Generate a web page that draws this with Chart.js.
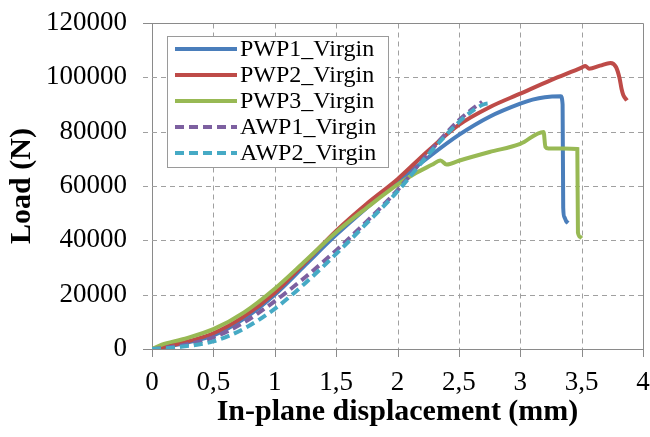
<!DOCTYPE html>
<html>
<head>
<meta charset="utf-8">
<script src="https://cdn.jsdelivr.net/npm/chart.js@4.4.1/dist/chart.umd.min.js"></script>
<style>
  html, body { margin: 0; padding: 0; background: #fff; }
  canvas { display: block; }
</style>
</head>
<body>
<canvas id="loadChart" width="650" height="437"></canvas>
<script>
/* Load vs. in-plane displacement, virgin specimens */

// displacement (mm) / load (N) per specimen
const pwp1X = [0, 0.1, 0.25, 0.5, 0.75, 1, 1.25, 1.5, 1.75, 2, 2.25, 2.5, 2.75, 3, 3.1, 3.2, 3.33, 3.345, 3.35, 3.36, 3.375, 3.39];
const pwp1Y = [0, 700, 2000, 5000, 11200, 20000, 31000, 42000, 52000, 61500, 70500, 78800, 85500, 90300, 91800, 92700, 93000, 90000, 52000, 48500, 47000, 46400];

const pwp2X = [0, 0.1, 0.25, 0.5, 0.75, 1, 1.25, 1.5, 1.75, 2, 2.25, 2.5, 2.75, 3, 3.25, 3.5, 3.53, 3.56, 3.65, 3.735, 3.78, 3.81, 3.825, 3.84, 3.87];
const pwp2Y = [0, 800, 2300, 5800, 12000, 20700, 32000, 43500, 53500, 62500, 73000, 82500, 89000, 94000, 99000, 103600, 104200, 103200, 104300, 105300, 103800, 99500, 95800, 93400, 91500];

const pwp3X = [0, 0.08, 0.25, 0.5, 0.75, 1, 1.25, 1.5, 1.75, 2, 2.15, 2.28, 2.35, 2.4, 2.5, 2.75, 3, 3.19, 3.205, 3.23, 3.35, 3.465, 3.47, 3.49, 3.5];
const pwp3Y = [0, 1600, 3600, 7300, 13500, 22200, 32500, 43000, 52000, 60500, 64800, 67800, 69400, 67900, 69300, 72500, 75500, 79900, 74400, 73800, 73800, 73600, 42800, 41200, 40700];

const awp1X = [0, 0.1, 0.25, 0.5, 0.75, 1, 1.25, 1.5, 1.75, 2, 2.25, 2.5, 2.6, 2.69];
const awp1Y = [0, 400, 1400, 4300, 9800, 17600, 26500, 36300, 47000, 58500, 72000, 84200, 88000, 91000];

const awp2X = [0, 0.1, 0.25, 0.5, 0.75, 1, 1.25, 1.5, 1.75, 2, 2.25, 2.5, 2.6, 2.7, 2.77];
const awp2Y = [0, 200, 900, 2800, 7500, 14800, 24300, 35000, 46300, 58000, 71500, 83500, 87300, 90000, 90500];

const seriesLabels = ['PWP1_Virgin', 'PWP2_Virgin', 'PWP3_Virgin', 'AWP1_Virgin', 'AWP2_Virgin'];

// axis ticks (comma decimals as in the original)
const xTicks = [0, 0.5, 1, 1.5, 2, 2.5, 3, 3.5, 4];
const xTickLabels = ['0', '0,5', '1', '1,5', '2', '2,5', '3', '3,5', '4'];
const yTicks = [0, 20000, 40000, 60000, 80000, 100000, 120000];
const yTickLabels = ['0', '20000', '40000', '60000', '80000', '100000', '120000'];

const SERIF = "'Liberation Serif', 'Times New Roman', serif";
const GRID = '#a0a0a0';
const AXIS = '#8a8a8a';

function pts(xs, ys) {
  return xs.map((x, i) => ({ x: x, y: ys[i] }));
}

function line(label, xs, ys, color, dash, order) {
  return {
    label: label,
    data: pts(xs, ys),
    borderColor: color,
    backgroundColor: color,
    borderWidth: 4,
    borderDash: dash,
    borderCapStyle: 'butt',
    pointRadius: 0,
    cubicInterpolationMode: 'monotone',
    fill: false,
    order: order,
  };
}

// keep the plot box where the layout padding puts it
function noScalePadding(s) {
  s.paddingTop = 0;
  s.paddingBottom = 0;
  s.paddingLeft = 0;
  s.paddingRight = 0;
}

/* dashed grid, tick marks and the solid frame (Excel style) */
const excelGrid = {
  id: 'excelGrid',
  beforeDatasetsDraw(chart) {
    const { ctx, chartArea: a, scales } = chart;
    const seg = (x1, y1, x2, y2) => {
      ctx.beginPath();
      ctx.moveTo(x1, y1);
      ctx.lineTo(x2, y2);
      ctx.stroke();
    };
    const L = Math.round(a.left), R = Math.round(a.right) + 0.5;
    const T = Math.round(a.top) + 0.5, B = Math.round(a.bottom);
    ctx.save();
    ctx.lineWidth = 1;

    ctx.strokeStyle = GRID;
    ctx.setLineDash([5, 4]);
    xTicks.forEach((v, i) => {
      if (i === 0 || i === xTicks.length - 1) return;
      const px = Math.round(scales.x.getPixelForValue(v)) + 0.5;
      seg(px, T, px, B);
    });
    yTicks.forEach((v, i) => {
      if (i === 0 || i === yTicks.length - 1) return;
      const py = Math.round(scales.y.getPixelForValue(v)) + 0.5;
      seg(L - 9, py, R, py);
    });

    ctx.setLineDash([]);
    ctx.strokeStyle = AXIS;
    xTicks.forEach((v) => {
      const px = Math.round(scales.x.getPixelForValue(v)) + 0.5;
      seg(px, B, px, B + 8);
    });
    seg(L - 9, B + 0.5, L, B + 0.5);
    seg(L - 9, T, R, T);
    seg(R, T, R, B + 8);
    ctx.restore();
  },
};

/* legend drawn inside the plot, framed box */
const boxLegend = {
  id: 'boxLegend',
  afterDatasetsDraw(chart) {
    const { ctx, chartArea } = chart;
    const left = Math.round(chartArea.left) + 15;
    const top = Math.round(chartArea.top) + 13;
    const w = 221, h = 131, rowH = 26;
    ctx.save();
    ctx.fillStyle = '#fff';
    ctx.fillRect(left, top, w, h);
    ctx.strokeStyle = '#9a9a9a';
    ctx.lineWidth = 1;
    ctx.strokeRect(left + 0.5, top + 0.5, w, h);
    ctx.font = '24px ' + SERIF;
    ctx.textBaseline = 'middle';
    chart.data.datasets.forEach((ds, i) => {
      const y = top + 13 + i * rowH;
      ctx.beginPath();
      ctx.strokeStyle = ds.borderColor;
      ctx.lineWidth = 4;
      ctx.setLineDash(ds.borderDash || []);
      ctx.moveTo(left + 8, y);
      ctx.lineTo(left + 70, y);
      ctx.stroke();
      ctx.setLineDash([]);
      ctx.fillStyle = '#000';
      ctx.fillText(ds.label, left + 73, y + 1);
    });
    ctx.restore();
  },
};

new Chart(document.getElementById('loadChart'), {
  type: 'line',
  data: {
    datasets: [
      line(seriesLabels[0], pwp1X, pwp1Y, '#4A7EBB', [], 5),
      line(seriesLabels[1], pwp2X, pwp2Y, '#BE4B48', [], 4),
      line(seriesLabels[2], pwp3X, pwp3Y, '#98B954', [], 3),
      line(seriesLabels[3], awp1X, awp1Y, '#7D60A0', [9, 5], 2),
      line(seriesLabels[4], awp2X, awp2Y, '#46AAC5', [9, 5], 1),
    ],
  },
  options: {
    responsive: false,
    animation: false,
    layout: { padding: { top: 23, right: 7, left: 0, bottom: 0 } },
    plugins: {
      legend: { display: false },
      tooltip: { enabled: false },
    },
    scales: {
      x: {
        type: 'linear',
        min: 0,
        max: 4,
        afterBuildTicks: (s) => { s.ticks = xTicks.map((v) => ({ value: v })); },
        afterFit: (s) => { s.height = 88; noScalePadding(s); },
        ticks: {
          color: '#000',
          font: { family: SERIF, size: 27 },
          padding: 10,
          maxRotation: 0,
          callback: (v) => xTickLabels[xTicks.indexOf(v)],
        },
        grid: { color: 'transparent', tickColor: 'transparent', tickLength: 8 },
        border: { color: AXIS, width: 1 },
        title: {
          display: true,
          text: 'In-plane displacement (mm)',
          color: '#000',
          font: { family: SERIF, size: 30, weight: 'bold' },
          padding: { top: 0, bottom: 7 },
        },
      },
      y: {
        type: 'linear',
        min: 0,
        max: 120000,
        afterBuildTicks: (s) => { s.ticks = yTicks.map((v) => ({ value: v })); },
        afterFit: (s) => { s.width = 152; noScalePadding(s); },
        ticks: {
          color: '#000',
          font: { family: SERIF, size: 27 },
          padding: 16,
          callback: (v) => yTickLabels[yTicks.indexOf(v)],
        },
        grid: { color: 'transparent', tickColor: 'transparent', tickLength: 9 },
        border: { color: AXIS, width: 1 },
        title: {
          display: true,
          text: 'Load (N)',
          color: '#000',
          font: { family: SERIF, size: 30, weight: 'bold' },
          padding: { top: 4, bottom: 0 },
        },
      },
    },
  },
  plugins: [excelGrid, boxLegend],
});
</script>
</body>
</html>
